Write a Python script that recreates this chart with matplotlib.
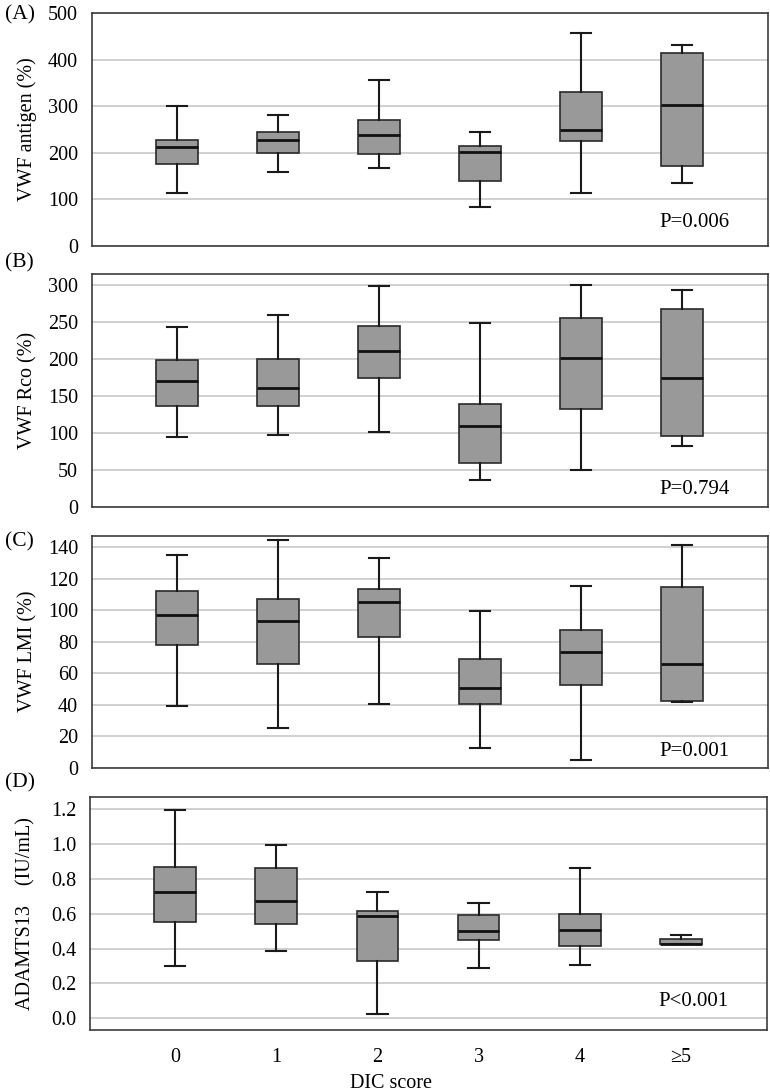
import matplotlib
matplotlib.use("Agg")
import matplotlib.pyplot as plt
import matplotlib.ticker

plt.rcParams["font.family"] = ["Liberation Serif", "DejaVu Serif"]

groups = ["0", "1", "2", "3", "4", "\u22655"]

# (A) VWF antigen (%)
antigen_lo = [114, 158, 168, 84, 113, 134]
antigen_q1 = [175, 200, 197, 138, 226, 172]
antigen_med = [213, 228, 237, 201, 248, 303]
antigen_q3 = [228, 244, 271, 214, 331, 415]
antigen_hi = [301, 280, 356, 244, 458, 431]

# (B) VWF Rco (%)
rco_lo = [95, 97, 102, 36, 50, 82]
rco_q1 = [137, 136, 174, 59, 132, 96]
rco_med = [171, 161, 211, 110, 201, 175]
rco_q3 = [199, 200, 245, 139, 255, 268]
rco_hi = [243, 259, 299, 249, 300, 294]

# (C) VWF LMI (%)
lmi_lo = [39.1, 25.5, 40.8, 12.6, 5.1, 41.6]
lmi_q1 = [78.3, 66.0, 83.2, 40.8, 52.6, 42.5]
lmi_med = [97.3, 93.5, 105.4, 50.5, 73.8, 65.8]
lmi_q3 = [112.4, 107.1, 113.9, 69.4, 87.4, 114.9]
lmi_hi = [135.3, 145.0, 133.4, 99.9, 115.6, 141.6]

# (D) ADAMTS13 (IU/mL)
adamts_lo = [0.297, 0.383, 0.025, 0.288, 0.305, 0.424]
adamts_q1 = [0.552, 0.539, 0.326, 0.449, 0.412, 0.424]
adamts_med = [0.723, 0.675, 0.587, 0.502, 0.506, 0.427]
adamts_q3 = [0.870, 0.864, 0.617, 0.592, 0.600, 0.456]
adamts_hi = [1.198, 0.995, 0.725, 0.663, 0.861, 0.479]

p_values = ["P=0.006", "P=0.794", "P=0.001", "P<0.001"]
panel_tags = ["(A)", "(B)", "(C)", "(D)"]
y_labels = ["VWF antigen (%)", "VWF Rco (%)", "VWF LMI (%)", "ADAMTS13    (IU/mL)"]

W, H = 770, 1092
fig = plt.figure(figsize=(W / 100, H / 100), dpi=100)

# pixel boxes: left, right, top, bottom
boxes_px = [(92, 768, 13, 245.7), (92, 768, 274, 507), (92, 768, 535.7, 767.7), (90, 767, 797.3, 1029.7)]
ylims = [(0, 500), (0, 315), (0, 147.5), (-0.067, 1.27)]
yticks = [range(0, 501, 100), range(0, 301, 50), range(0, 141, 20), [0, 0.2, 0.4, 0.6, 0.8, 1.0, 1.2]]
tag_y = [15, 263, 542, 783]
p_y = [0.10, 0.073, 0.069, 0.12]

data = [
    (antigen_lo, antigen_q1, antigen_med, antigen_q3, antigen_hi),
    (rco_lo, rco_q1, rco_med, rco_q3, rco_hi),
    (lmi_lo, lmi_q1, lmi_med, lmi_q3, lmi_hi),
    (adamts_lo, adamts_q1, adamts_med, adamts_q3, adamts_hi),
]

for i, (lo, q1, med, q3, hi) in enumerate(data):
    l, r, t, b = boxes_px[i]
    ax = fig.add_axes([l / W, 1 - b / H, (r - l) / W, (b - t) / H])
    stats = [{"whislo": lo[k], "q1": q1[k], "med": med[k], "q3": q3[k], "whishi": hi[k],
              "fliers": [], "label": groups[k]} for k in range(len(groups))]
    ax.bxp(stats, positions=range(len(groups)), widths=0.41, patch_artist=True,
           showfliers=False, capwidths=0.2,
           boxprops=dict(facecolor="#999999", edgecolor="#2a2a2a", linewidth=1.2),
           medianprops=dict(color="#111111", linewidth=2),
           whiskerprops=dict(color="#1a1a1a", linewidth=1.5),
           capprops=dict(color="#1a1a1a", linewidth=1.5),
           zorder=3)
    ax.set_xlim(-0.84, 5.85)
    ax.set_ylim(*ylims[i])
    ax.set_yticks(list(yticks[i]))
    if i == 3:
        ax.yaxis.set_major_formatter(matplotlib.ticker.FormatStrFormatter("%.1f"))
        ax.set_xticks(range(len(groups)))
        ax.set_xticklabels(groups)
        ax.tick_params(axis="x", length=0, pad=13, labelsize=14.5)
    else:
        ax.set_xticks([])
    ax.tick_params(axis="y", length=0, pad=10, labelsize=14.5)
    ax.grid(axis="y", color="#c4c4c4", linewidth=1.1, zorder=0)
    ax.set_axisbelow(True)
    for s in ax.spines.values():
        s.set_color("#3c3c3c")
        s.set_linewidth(1.2)
    ax.set_ylabel(y_labels[i], fontsize=14.5)
    ax.yaxis.set_label_coords(-0.081, 0.5)
    ax.text(0.84, p_y[i], p_values[i], transform=ax.transAxes, fontsize=15,
            ha="left", va="center")
    fig.text(5 / W, 1 - tag_y[i] / H, panel_tags[i], fontsize=15.5, ha="left", va="center")

fig.text(391 / W, 1 - 1084 / H, "DIC score", fontsize=14.5, ha="center", va="center")

fig.savefig("out.png", dpi=100)
